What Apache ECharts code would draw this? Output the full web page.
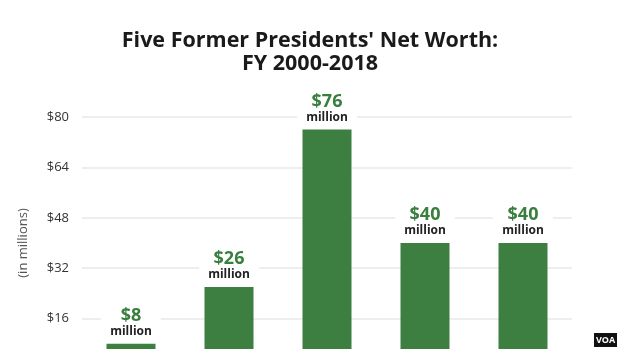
<!DOCTYPE html>
<html>
<head>
<meta charset="utf-8">
<script src="https://cdn.jsdelivr.net/npm/echarts@6/dist/echarts.min.js"></script>
<style>
  html, body { margin: 0; padding: 0; background: #fff; }
  #chart { width: 620px; height: 349px; }
</style>
</head>
<body>
<div id="chart"></div>
<script>
// Net worth of five former presidents, in millions of dollars
const presidents = ['Jimmy Carter', 'George H.W. Bush', 'Bill Clinton', 'George W. Bush', 'Barack Obama'];
const netWorth = [8, 26, 76, 40, 40];
const yTicks = { min: 0, max: 80, interval: 16 };

const barGreen = '#3c7f41';
const labelGreen = '#3a7e3e';

const chart = echarts.init(document.getElementById('chart'), null, { renderer: 'canvas' });

chart.setOption({
  backgroundColor: '#ffffff',
  animation: false,
  title: {
    text: "Five Former Presidents' Net Worth:\nFY 2000-2018",
    left: 'center',
    top: 24,
    textStyle: {
      fontFamily: 'Open Sans',
      fontWeight: 'bold',
      fontSize: 21.5,
      lineHeight: 23,
      color: '#1a1a1a'
    }
  },
  grid: {
    left: 82,
    right: 48,
    top: 117,
    height: 252,
    containLabel: false,
    outerBoundsMode: 'none'
  },
  xAxis: {
    type: 'category',
    data: presidents,
    axisLine: { show: false },
    axisTick: { show: false },
    axisLabel: { show: false }
  },
  yAxis: {
    type: 'value',
    min: yTicks.min,
    max: yTicks.max,
    interval: yTicks.interval,
    name: '(in millions)',
    nameLocation: 'middle',
    nameGap: 52,
    nameTextStyle: {
      fontFamily: 'Open Sans',
      fontSize: 13,
      color: '#555'
    },
    axisLine: { show: false },
    axisTick: { show: false },
    axisLabel: {
      fontFamily: 'Open Sans',
      fontSize: 13,
      color: '#333',
      margin: 13,
      formatter: v => '$' + v
    },
    splitLine: { lineStyle: { color: '#e8e8e8', width: 1.5 } }
  },
  series: [{
    type: 'bar',
    data: netWorth,
    barWidth: '50%',
    itemStyle: { color: barGreen },
    label: {
      show: true,
      position: 'top',
      distance: 4,
      backgroundColor: '#ffffff',
      padding: [0, 9, 2, 9],
      formatter: p => '{v|$' + p.value + '}\n{m|million}',
      rich: {
        v: {
          fontFamily: 'Open Sans',
          fontWeight: 'bold',
          fontSize: 18,
          lineHeight: 18,
          color: labelGreen,
          align: 'center'
        },
        m: {
          fontFamily: 'Open Sans',
          fontWeight: 'bold',
          fontSize: 12,
          lineHeight: 13,
          color: '#222',
          align: 'center'
        }
      }
    }
  }],
  graphic: [{
    type: 'group',
    left: 594,
    top: 333,
    children: [
      { type: 'rect', shape: { x: 0, y: 0, width: 23, height: 14 }, style: { fill: '#111' } },
      {
        type: 'text',
        x: 11.5, y: 7,
        style: {
          text: 'VOA',
          fill: '#fff',
          font: 'bold 9px "Open Sans"',
          align: 'center',
          verticalAlign: 'middle'
        }
      }
    ]
  }]
});
</script>
</body>
</html>
